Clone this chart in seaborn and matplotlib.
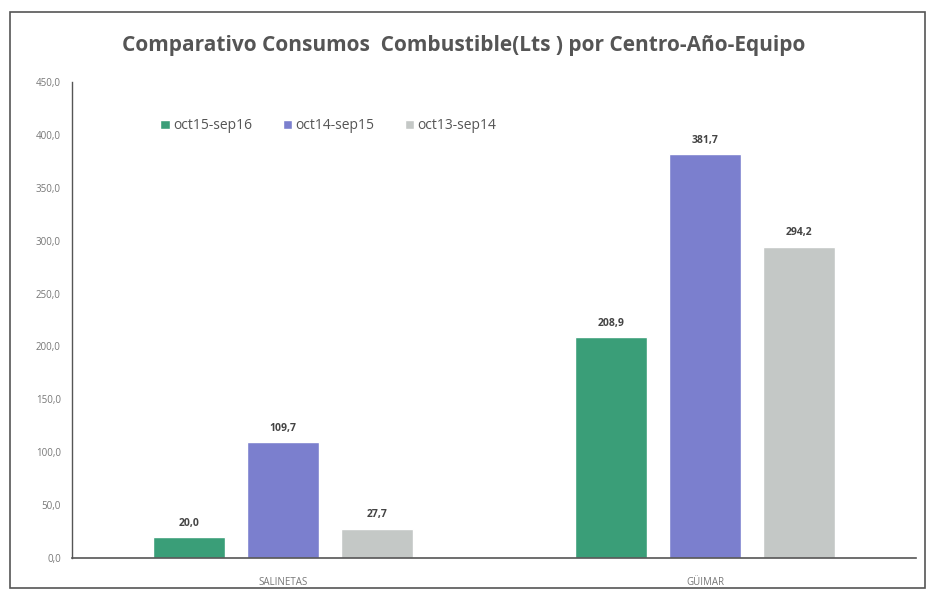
import matplotlib
matplotlib.use("Agg")
import matplotlib.pyplot as plt
import seaborn as sns
import pandas as pd
from matplotlib.patches import Rectangle

categories = ["SALINETAS", "GÜIMAR"]
series = ["oct15-sep16", "oct14-sep15", "oct13-sep14"]
v_1516 = [20.0, 208.9]
v_1415 = [109.7, 381.7]
v_1314 = [27.7, 294.2]
yticks = [0, 50, 100, 150, 200, 250, 300, 350, 400, 450]

rows = []
for s, vals in zip(series, [v_1516, v_1415, v_1314]):
    for c, v in zip(categories, vals):
        rows.append({"Centro": c, "Periodo": s, "Valor": v})
df = pd.DataFrame(rows)

colors = ["#3a9e78", "#7b7fce", "#c4c8c6"]

sns.set_style("white")
plt.rcParams['font.family'] = ['Open Sans', 'DejaVu Sans']

fig = plt.figure(figsize=(9.33, 5.96), dpi=100)
fig.patch.set_facecolor("white")
ax = fig.add_axes([72/933, 1-558/596, (916-72)/933, (558-82)/596])

sns.barplot(data=df, x="Centro", y="Valor", hue="Periodo", hue_order=series,
            order=categories, palette=colors, width=0.667, gap=0.23,
            saturation=1, ax=ax, legend=True)

ax.set_ylim(0, 450)
ax.set_xlim(-0.5, 1.5)
ax.set_yticks(yticks)
ax.set_yticklabels([f"{t:.1f}".replace(".", ",") for t in yticks],
                   fontsize=7, color="#777777")
ax.tick_params(axis="x", labelsize=7, colors="#777777", length=0, pad=14)
ax.tick_params(axis="y", length=0, pad=8)
ax.set_xlabel("")
ax.set_ylabel("")
for sp in ["top", "right"]:
    ax.spines[sp].set_visible(False)
ax.spines["left"].set_color("#555555")
ax.spines["bottom"].set_color("#555555")
ax.spines["left"].set_linewidth(1.0)
ax.spines["bottom"].set_linewidth(1.2)

for cont in ax.containers:
    labels = [f"{b.get_height():.1f}".replace(".", ",") for b in cont]
    ax.bar_label(cont, labels=labels, padding=6, fontsize=7.5,
                 color="#444444", fontweight="bold")

leg = ax.legend(loc="upper left", bbox_to_anchor=(0.09, 0.95), ncol=3,
                frameon=False, fontsize=10, handlelength=0.7, handleheight=0.7,
                handletextpad=0.2, columnspacing=2.2)
for t in leg.get_texts():
    t.set_color("#555555")

fig.text(0.497, 1-45/596, "Comparativo Consumos  Combustible(Lts ) por Centro-Año-Equipo",
         ha="center", va="center", fontsize=15, fontweight="bold", color="#555555")

fig.patches.append(Rectangle((10/933, 8/596), 915/933, 1-20/596,
                             transform=fig.transFigure, fill=False,
                             edgecolor="#555555", linewidth=1.2))

fig.savefig("out.png", dpi=100)
